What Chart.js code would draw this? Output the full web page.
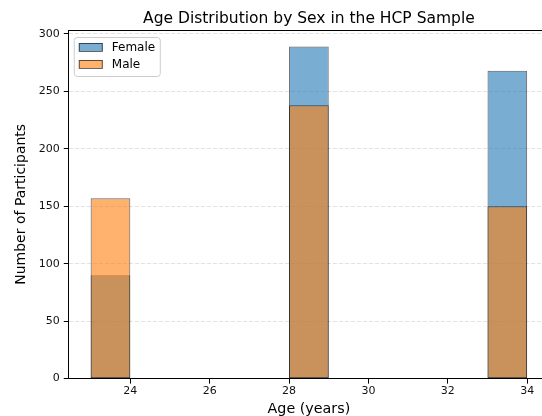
<!DOCTYPE html>
<html lang="en">
<head>
    <meta charset="UTF-8">
    <title>Age Distribution by Sex</title>
    <script src="https://cdn.jsdelivr.net/npm/chart.js"></script>
    <style>
        body { margin: 0; overflow: hidden; background: white; }
        #wrap { width: 560px; height: 416px; }
    </style>
</head>
<body>
    <div id="wrap"><canvas id="ageChart" width="560" height="416"></canvas></div>

    <script>
        // histogram bins (left edges, width 1 year)
        const binEdges = [23, 28, 33];
        const binWidth = 1;
        const femaleCounts = [90, 289, 268];
        const maleCounts = [157, 238, 150];
        const xTicks = [24, 26, 28, 30, 32, 34];
        const yTicks = [0, 50, 100, 150, 200, 250, 300];

        const toPoints = counts => binEdges.map((e, i) => ({ x: e + binWidth / 2, y: counts[i] }));

        const font = 'DejaVu Sans';

        // title centred on the plot area, like matplotlib does
        const titlePlugin = {
            id: 'axTitle',
            afterDraw(chart) {
                const { ctx, chartArea } = chart;
                ctx.save();
                ctx.fillStyle = '#000';
                ctx.font = '15.5px "' + font + '"';
                ctx.textAlign = 'center';
                ctx.textBaseline = 'middle';
                ctx.fillText('Age Distribution by Sex in the HCP Sample', (chartArea.left + chartArea.right) / 2, 18.5);
                ctx.restore();
            }
        };

        // top spine + legend box in the upper left corner
        const framePlugin = {
            id: 'frame',
            afterDraw(chart) {
                const { ctx, chartArea: a } = chart;
                ctx.save();
                ctx.strokeStyle = '#000';
                ctx.lineWidth = 1;
                ctx.beginPath();
                ctx.moveTo(a.left, a.top + 0.5);
                ctx.lineTo(a.right, a.top + 0.5);
                ctx.stroke();

                const x = a.left + 5, y = a.top + 7, w = 86, h = 39;
                ctx.fillStyle = 'rgba(255,255,255,0.8)';
                ctx.strokeStyle = '#cccccc';
                ctx.beginPath();
                ctx.roundRect(x + 0.5, y + 0.5, w, h, 3);
                ctx.fill();
                ctx.stroke();

                chart.data.datasets.forEach((ds, i) => {
                    const ry = y + 6 + i * 17;
                    ctx.fillStyle = ds.backgroundColor;
                    ctx.fillRect(x + 5, ry, 24, 8);
                    ctx.strokeStyle = ds.borderColor;
                    ctx.strokeRect(x + 5.5, ry + 0.5, 23, 8);
                    ctx.fillStyle = '#000';
                    ctx.font = '12px "' + font + '"';
                    ctx.textAlign = 'left';
                    ctx.textBaseline = 'middle';
                    ctx.fillText(ds.label, x + 38, ry + 4.5);
                });
                ctx.restore();
            }
        };

        new Chart(document.getElementById('ageChart'), {
            type: 'bar',
            data: {
                datasets: [{
                    label: 'Female',
                    data: toPoints(femaleCounts),
                    backgroundColor: 'rgba(31,119,180,0.6)',
                    borderColor: 'rgba(0,0,0,0.6)',
                    borderWidth: 1,
                    borderSkipped: false,
                    order: 1
                }, {
                    label: 'Male',
                    data: toPoints(maleCounts),
                    backgroundColor: 'rgba(255,127,14,0.6)',
                    borderColor: 'rgba(0,0,0,0.6)',
                    borderWidth: 1,
                    borderSkipped: false,
                    order: 0
                }]
            },
            options: {
                responsive: false,
                animation: false,
                grouped: false,
                categoryPercentage: 1,
                barPercentage: 0.5,
                // canvas is wider than the window: the plot runs past the right edge like the reference
                layout: { padding: { top: 30, right: 11, left: 0, bottom: -2 } },
                plugins: {
                    legend: { display: false },
                    title: { display: false },
                    tooltip: { enabled: false }
                },
                scales: {
                    x: {
                        type: 'linear',
                        offset: false,
                        min: 22.45,
                        max: 34.55,
                        afterBuildTicks: axis => { axis.ticks = xTicks.map(v => ({ value: v })); },
                        grid: { offset: false, drawOnChartArea: false, tickLength: 5, tickColor: '#000' },
                        border: { color: '#000', width: 1 },
                        ticks: { color: '#111', font: { family: font, size: 11 }, padding: 1 },
                        title: { display: true, text: 'Age (years)', color: '#000', font: { family: font, size: 14.3 }, padding: { top: 2, bottom: 0 } }
                    },
                    y: {
                        min: 0,
                        max: 303.45,
                        afterBuildTicks: axis => { axis.ticks = yTicks.map(v => ({ value: v })); },
                        grid: { color: '#e2e2e2', tickLength: 5, tickColor: '#000', tickBorderDash: [] },
                        border: { color: '#000', width: 1, dash: [4, 2] },
                        ticks: { color: '#111', font: { family: font, size: 11 }, padding: 4 },
                        title: { display: true, text: 'Number of Participants', color: '#000', font: { family: font, size: 14 }, padding: { top: 13, bottom: 5 } }
                    }
                }
            },
            plugins: [titlePlugin, framePlugin]
        });
    </script>
</body>
</html>
